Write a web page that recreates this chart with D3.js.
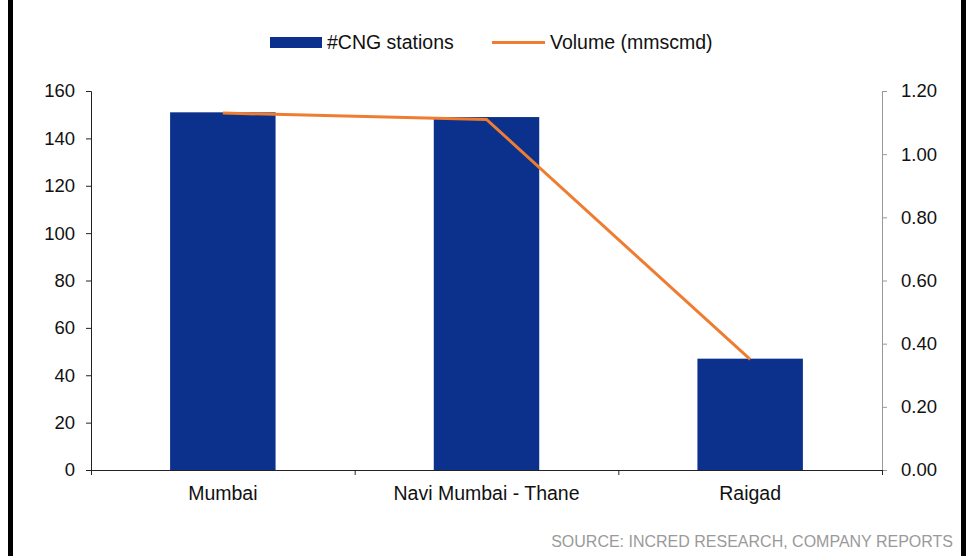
<!DOCTYPE html>
<html>
<head>
<meta charset="utf-8">
<script src="https://cdn.jsdelivr.net/npm/d3@7"></script>
<style>
  html, body { margin: 0; padding: 0; background: #fff; }
  svg { display: block; font-family: "Liberation Sans", Arial, sans-serif; }
</style>
</head>
<body>
<svg id="chart" width="971" height="556"></svg>
<script>
// Regions served and their figures
const regions = ["Mumbai", "Navi Mumbai - Thane", "Raigad"];
const stations = [151, 149, 47];
const volume = [1.13, 1.11, 0.35];
const leftTicks = [0, 20, 40, 60, 80, 100, 120, 140, 160];
const rightTicks = [0, 0.2, 0.4, 0.6, 0.8, 1.0, 1.2];

const svg = d3.select("#chart");
const W = 971, H = 556;
const m = { left: 91, right: 89, top: 91, bottom: 86 };
const plotW = W - m.left - m.right;
const plotH = H - m.top - m.bottom;
const FONT = "Liberation Sans, Arial, sans-serif";

// Side frame bars
svg.append("rect").attr("x", 8).attr("y", 0).attr("width", 5).attr("height", H).attr("fill", "#000");
svg.append("rect").attr("x", 961).attr("y", 0).attr("width", 5).attr("height", H).attr("fill", "#000");

const g = svg.append("g").attr("transform", `translate(${m.left},${m.top})`);

const x = d3.scaleBand().domain(regions).range([0, plotW]).paddingInner(0).paddingOuter(0);
const yL = d3.scaleLinear().domain([0, 160]).range([plotH, 0]);
const yR = d3.scaleLinear().domain([0, 1.2]).range([plotH, 0]);

const barW = x.bandwidth() * 0.4;

// Bars
g.selectAll("rect.bar").data(regions).join("rect")
  .attr("class", "bar")
  .attr("x", d => x(d) + (x.bandwidth() - barW) / 2)
  .attr("width", barW)
  .attr("y", (d, i) => yL(stations[i]))
  .attr("height", (d, i) => plotH - yL(stations[i]))
  .attr("fill", "#0b318d");

// Volume line
const line = d3.line()
  .x((d, i) => x(regions[i]) + x.bandwidth() / 2)
  .y(d => yR(d));
g.append("path").datum(volume)
  .attr("d", line)
  .attr("fill", "none")
  .attr("stroke", "#ee7d31")
  .attr("stroke-width", 3);

// Left axis
const axL = g.append("g").call(d3.axisLeft(yL).tickValues(leftTicks).tickSize(5).tickPadding(11).tickFormat(d3.format("d")));
axL.select(".domain").attr("stroke", "#222").attr("d", `M-5,0.5H0.5V${plotH}`);
axL.selectAll(".tick line").attr("stroke", "#222");
axL.selectAll("text").attr("font-size", 18.5).attr("fill", "#111").attr("font-family", FONT);

// Right axis
const axR = g.append("g").attr("transform", `translate(${plotW},0)`)
  .call(d3.axisRight(yR).tickValues(rightTicks).tickSize(5).tickPadding(14).tickFormat(d3.format(".2f")));
axR.select(".domain").attr("stroke", "#999");
axR.selectAll(".tick line").attr("stroke", "#999");
axR.selectAll("text").attr("font-size", 18.5).attr("fill", "#111").attr("font-family", FONT);

// Bottom axis with ticks at category boundaries
const axB = g.append("g").attr("transform", `translate(0,${plotH})`);
axB.append("line").attr("x1", 0).attr("x2", plotW).attr("y1", 0.5).attr("y2", 0.5).attr("stroke", "#222");
const bounds = [0, 1, 2, 3].map(i => i * x.step());
axB.selectAll("line.tk").data(bounds).join("line")
  .attr("class", "tk")
  .attr("x1", d => d + 0.5).attr("x2", d => d + 0.5)
  .attr("y1", 0).attr("y2", 5).attr("stroke", "#222");
axB.selectAll("text").data(regions).join("text")
  .attr("x", d => x(d) + x.bandwidth() / 2)
  .attr("y", 30)
  .attr("text-anchor", "middle")
  .attr("font-size", 19.5).attr("fill", "#111")
  .text(d => d);

// Legend
const lg = svg.append("g");
lg.append("rect").attr("x", 270).attr("y", 37).attr("width", 52).attr("height", 11).attr("fill", "#0b318d");
lg.append("text").attr("x", 327).attr("y", 49).attr("font-size", 19.5).attr("fill", "#111").text("#CNG stations");
lg.append("line").attr("x1", 492).attr("x2", 545).attr("y1", 42.5).attr("y2", 42.5)
  .attr("stroke", "#ee7d31").attr("stroke-width", 3);
lg.append("text").attr("x", 550).attr("y", 49).attr("font-size", 19.5).attr("fill", "#111").text("Volume (mmscmd)");

// Source note
svg.append("text").attr("x", 953).attr("y", 547).attr("text-anchor", "end")
  .attr("font-size", 16).attr("fill", "#9a9a9a")
  .text("SOURCE: INCRED RESEARCH, COMPANY REPORTS");
</script>
</body>
</html>
